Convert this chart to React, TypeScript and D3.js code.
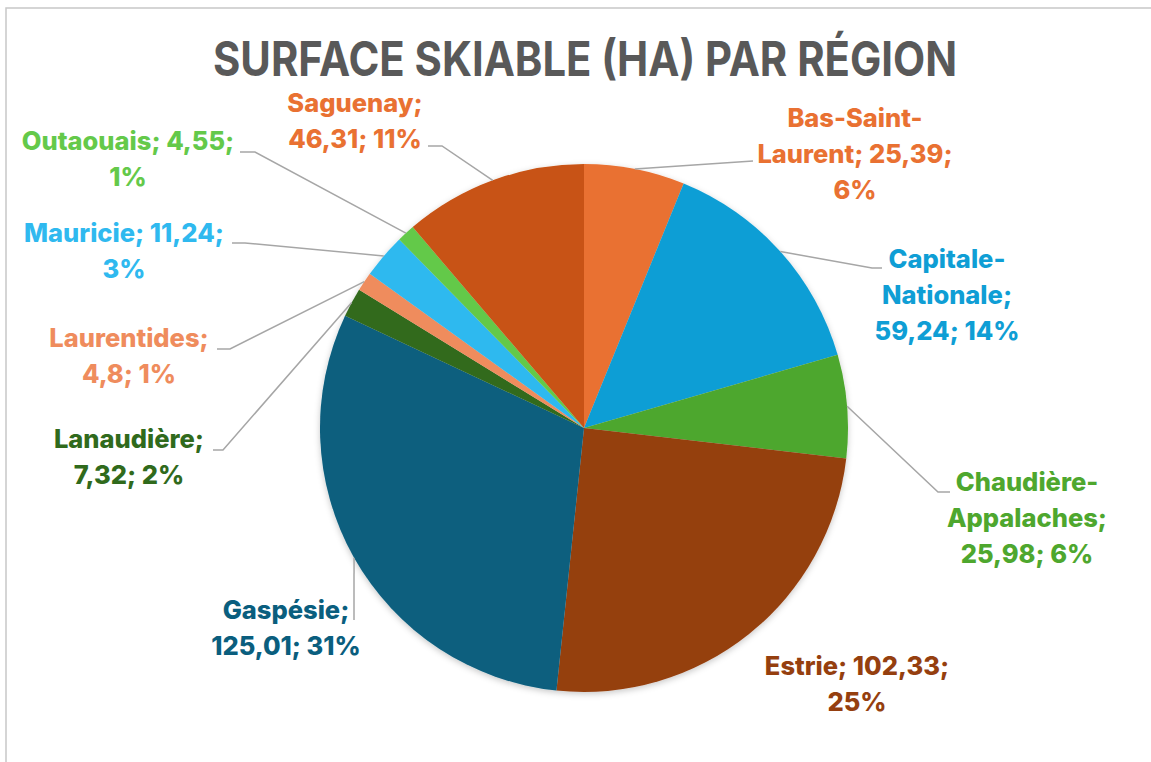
import React from 'react';
import * as d3 from 'd3';

// Surface skiable (ha) par région
const regions = [
  'Bas-Saint-Laurent',
  'Capitale-Nationale',
  'Chaudière-Appalaches',
  'Estrie',
  'Gaspésie',
  'Lanaudière',
  'Laurentides',
  'Mauricie',
  'Outaouais',
  'Saguenay',
];
const surfaces = [25.39, 59.24, 25.98, 102.33, 125.01, 7.32, 4.8, 11.24, 4.55, 46.31];
// percentages as Excel printed them (rounded to total 100)
const percents = [6, 14, 6, 25, 31, 2, 1, 3, 1, 11];

const sliceColors = ['#E97132', '#0F9ED5', '#4EA72E', '#953F0F', '#0A5E7E', '#306A1C', '#EF8C5D', '#2FB9EF', '#64C94A', '#C85313'];
const labelColors = ['#E97132', '#0F9ED5', '#4EA72E', '#953F0F', '#0A5E7E', '#306A1C', '#EF8C5D', '#2FB9EF', '#64C94A', '#E97132'];

// label placement: text centre, first baseline, words per line, leader bend points
type Layout = { x: number; y: number; wrap: number[]; leader: [number, number][] | null };
const layout: Layout[] = [
  { x: 855, y: 127, wrap: [2, 2, 1], leader: [[753, 161]] },
  { x: 947, y: 268, wrap: [1, 1, 2], leader: [[872, 268], [882, 268]] },
  { x: 1027, y: 491, wrap: [1, 1, 2], leader: [[938, 492], [950, 492]] },
  { x: 857, y: 675, wrap: [2, 1], leader: null },
  { x: 286, y: 619, wrap: [1, 2], leader: [[354, 620]] },
  { x: 129, y: 448, wrap: [1, 2], leader: [[223, 450], [213, 450]] },
  { x: 129, y: 347, wrap: [1, 2], leader: [[230, 349], [217, 349]] },
  { x: 124, y: 242, wrap: [2, 1], leader: [[245, 243], [232, 243]] },
  { x: 128, y: 150, wrap: [2, 1], leader: [[255, 152], [240, 152]] },
  { x: 355, y: 112, wrap: [1, 2], leader: [[442, 146], [428, 146]] },
];

const WIDTH = 1151;
const HEIGHT = 762;
const CX = 584;
const CY = 428;
const R = 264;
const LINE_H = 36;

const fmtValue = (v: number) => String(v).replace('.', ',');

function wrapLabel(text: string, wrap: number[]) {
  // break points: after a hyphen or after "; "
  const pieces = text.match(/[^\s-]+-|[^\s-]+/g) || [text];
  const lines: string[] = [];
  let i = 0;
  wrap.forEach((n) => {
    let line = '';
    for (let k = 0; k < n && i < pieces.length; k++, i++) {
      const p = pieces[i];
      line += line === '' || line.endsWith('-') ? p : ' ' + p;
    }
    lines.push(line);
  });
  return lines;
}

export default function App() {
  const pie = d3.pie<number>().sort(null).value((d) => d)(surfaces);
  const arc = d3.arc<d3.PieArcDatum<number>>().innerRadius(0).outerRadius(R);
  const edge = d3.arc<d3.PieArcDatum<number>>().innerRadius(R).outerRadius(R);
  const font = "Inter, 'Noto Sans', 'DejaVu Sans', sans-serif";

  return (
    <div style={{ position: 'absolute', left: 0, top: 0 }}>
      <svg width={WIDTH} height={HEIGHT} style={{ display: 'block', background: '#fff' }}>
        <defs>
          <filter id="pieShadow" x="-20%" y="-20%" width="140%" height="140%">
            <feDropShadow dx="0" dy="2" stdDeviation="3" floodColor="#000" floodOpacity="0.22" />
          </filter>
        </defs>

        {/* chart area frame (only top and left edge visible) */}
        <rect x={6} y={8} width={WIDTH + 20} height={HEIGHT + 20} fill="none" stroke="#C8C8C8" strokeWidth={1.5} />

        <text
          x={213}
          y={76}
          textLength={744}
          lengthAdjust="spacingAndGlyphs"
          fontFamily={font}
          fontWeight={700}
          fontSize={48}
          fill="#595959"
        >
          SURFACE SKIABLE (HA) PAR RÉGION
        </text>

        <g transform={`translate(${CX},${CY})`} filter="url(#pieShadow)">
          {pie.map((d, i) => (
            <path key={regions[i]} d={arc(d) || ''} fill={sliceColors[i]} />
          ))}
        </g>

        {pie.map((d, i) => {
          const l = layout[i];
          if (!l.leader) return null;
          const [ax, ay] = edge.centroid(d);
          const pts: [number, number][] = [[CX + ax, CY + ay], ...l.leader];
          return (
            <path
              key={'leader-' + i}
              d={d3.line()(pts) || ''}
              fill="none"
              stroke="#A6A6A6"
              strokeWidth={1.5}
            />
          );
        })}

        {regions.map((name, i) => {
          const l = layout[i];
          const lines = wrapLabel(`${name}; ${fmtValue(surfaces[i])}; ${percents[i]}%`, l.wrap);
          return (
            <text
              key={'label-' + name}
              x={l.x}
              y={l.y}
              textAnchor="middle"
              fontFamily={font}
              fontWeight={800}
              fontSize={25.5}
              fill={labelColors[i]}
            >
              {lines.map((t, k) => (
                <tspan key={k} x={l.x} y={l.y + k * LINE_H}>
                  {t}
                </tspan>
              ))}
            </text>
          );
        })}
      </svg>
    </div>
  );
}
